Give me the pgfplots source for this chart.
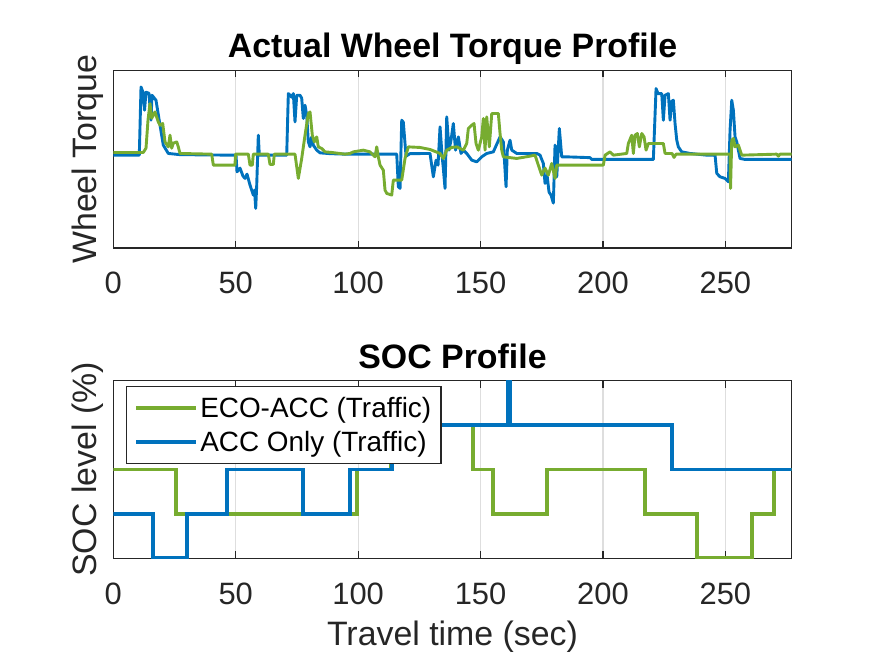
\documentclass[border=0pt]{standalone}
\usepackage{fontspec}
\setmainfont{Liberation Sans}
\usepackage{pgfplots}
\pgfplotsset{compat=1.18}

\definecolor{accblue}{HTML}{0072BD}
\definecolor{ecogreen}{HTML}{77AC30}
\definecolor{axgray}{HTML}{262626}
\definecolor{gridgray}{HTML}{DEDEDE}

\pgfplotsset{
  profileaxis/.style={
    scale only axis, width=678.4bp, height=177.7bp,
    xmin=0, xmax=277.1,
    xtick={0,50,...,250}, ytick=\empty,
    xmajorgrids, grid style={gridgray, line width=1.2bp},
    tick align=inside, major tick length=7bp,
    every tick/.style={axgray, line width=1.2bp},
    axis line style={axgray, line width=1.4bp},
    /pgf/number format/assume math mode=true,
    ticklabel style={font=\fontsize{31}{36}\selectfont, text=axgray},
    xticklabel style={anchor=base, yshift=-46bp},
    label style={font=\fontsize{34}{40}\selectfont, text=axgray},
    title style={font=\bfseries\fontsize{34}{40}\selectfont,
                 at={(axis description cs:0.5,1)}, anchor=base, yshift=6.5bp},
    ylabel style={at={(axis description cs:-0.0251,0.5)}, anchor=base},
  },
}

\begin{document}
\begin{tikzpicture}
\useasboundingbox (0,0) rectangle (875bp,657bp);

% Wheel torque
\begin{axis}[profileaxis, at={(113.3bp,409bp)}, anchor=south west,
  ymin=-89, ymax=89,
  title={Actual Wheel Torque Profile}, ylabel={Wheel Torque}]
\addplot[accblue, line width=2.9bp, line join=round] coordinates {
(0,4) (10.62,4) (11.32,72.3) (12.13,67) (12.75,49) (13.36,67) (14.58,66)
(15.40,39) (15.81,64) (17.44,59) (19.08,34) (20.42,14) (22.47,5.7) (27.25,4.5)
(47.67,4) (50.12,4) (50.53,-12.7) (51.76,-9) (52.98,-17) (53.80,-19.3)
(54.62,-15) (55.84,-26) (57.19,-36) (57.68,-31) (58.17,-49.3) (58.58,-26)
(59.23,24) (59.64,4) (60.33,4) (70.83,4) (71.49,65.7) (72.18,64) (72.88,62)
(73.53,65.7) (74.22,37.3) (74.92,64) (76.27,64) (76.96,61) (77.61,40.7)
(78.31,54) (79.00,44) (79.66,17.3) (80.35,12.3) (81.05,22.3) (81.70,14)
(83.09,9) (84.44,6.3) (88.52,5.5) (94.65,5) (115.77,5) (116.42,-27.7)
(117.12,-29.3) (117.81,39) (118.46,37) (119.57,3) (121.20,5.5) (129.37,5.7)
(130.72,-17.7) (131.82,-1) (132.64,-6) (133.46,32.3) (134.27,4) (134.80,-9.3)
(135.50,-29.3) (136.19,42.3) (137.13,9) (137.95,19) (138.89,35.7) (139.79,9)
(140.93,22.3) (142.03,5.7) (142.97,9) (144.36,5.7) (146.41,-1) (148.45,-2.7)
(150.49,2.3) (152.53,5.7) (155.23,7.3) (157.97,22.3) (159.31,17.3)
(160.01,-11) (160.42,-27.7) (160.95,9) (162.05,19) (162.75,9) (164.79,5.7)
(172.96,5.7) (174.31,4) (175.65,-4.3) (176.35,-24.3) (177.17,-16)
(177.98,-33) (178.80,-36) (179.74,-44) (180.43,14) (181.13,-17.7)
(182.19,30.7) (183.17,2.3) (185.21,2.3) (194.73,1.5) (195.42,-0.3)
(220.59,-0.3) (221.69,70.7) (222.51,65.7) (224.02,65.7) (224.67,39)
(225.37,64) (226.72,65.7) (227.41,39) (228.10,58) (228.76,59) (229.45,35.7)
(230.15,19) (230.80,12.3) (232.19,7.3) (235.58,5.7) (242.40,4) (245.79,4)
(246.49,-14.3) (247.83,-17.7) (249.88,-19.3) (251.23,-22.7) (251.92,29)
(252.61,59) (253.27,49) (253.96,22.3) (254.66,17.3) (255.31,9) (256.00,0.7)
(258.05,-0.3) (277.1,-0.3)
};
\addplot[ecogreen, line width=2.9bp, line join=round] coordinates {
(0,6.7) (12.25,6.7) (13.36,11) (14.17,39) (14.99,55.7) (15.69,41)
(17.03,47.3) (18.38,37.3) (19.08,34) (20.18,35.7) (21.12,17.3) (22.47,12.3)
(23.16,24) (23.86,11) (24.51,16) (25.90,17.3) (26.55,12.3) (27.25,5.7)
(40.20,5) (40.85,-6) (49.71,-6) (49.92,5) (55.15,5) (55.84,-6) (56.78,-6)
(57.19,5) (63.32,5) (64.01,-5.3) (65.36,-5.3) (65.77,5) (74.22,5)
(75.57,-19.3) (76.96,0.7) (78.31,24) (79.66,45.7) (80.35,47.3) (81.29,24)
(82.11,17.3) (83.09,22.3) (83.74,12.3) (85.13,10.7) (86.48,7.3) (89.22,6.7)
(94.65,5) (96.69,5.7) (98.04,7.3) (102.12,9) (104.86,7.3) (106.90,2.3)
(107.60,12.3) (108.25,2.3) (108.95,-6) (110.29,-11) (110.99,-31)
(111.68,-34.3) (113.73,-36) (114.38,-21) (117.81,-21) (119.16,0.7)
(120.51,12.3) (125.29,11.7) (129.37,9.7) (133.46,5.7) (134.80,0.7) (136.19,9)
(138.24,11.7) (140.28,12.3) (142.97,9) (144.36,15.7) (145.02,30.7)
(146.41,34) (147.34,35.7) (148.16,15.7) (149.10,9) (150.49,22.3)
(151.14,40.7) (151.84,9) (152.53,42.3) (153.59,12.3) (154.58,45.7)
(157.27,45.7) (157.97,25.7) (158.66,9) (159.31,2.3) (164.79,0.7) (170.22,3)
(172.26,4) (173.61,-6) (175.00,-16) (176.35,-9) (177.70,-16) (179.08,-4.3)
(180.43,-19.3) (181.13,-6) (200.16,-6) (200.86,4) (202.90,7.3) (204.25,4)
(209.72,5.7) (210.38,15.7) (211.76,24) (212.42,5.7) (213.11,24) (214.05,25.7)
(214.87,12.3) (215.85,25.7) (216.79,22.3) (217.61,9) (218.55,15.7)
(224.67,15.7) (225.37,5.7) (228.23,5.7) (229.04,1.7) (229.86,5) (251.92,5)
(252.12,-29.3) (252.61,19) (253.27,20.7) (253.96,12.3) (255.31,14)
(256.70,4) (271.00,5) (271.65,3) (272.34,5) (277.1,5)
};
\end{axis}

% State of charge
\begin{axis}[profileaxis, at={(113.3bp,98.7bp)}, anchor=south west,
  ymin=0, ymax=4,
  title={SOC Profile}, ylabel={SOC level (\%)},
  xlabel={Travel time (sec)},
  xlabel style={at={(axis description cs:0.5,0)}, anchor=base, yshift=-87bp},
  legend cell align=left,
  legend image code/.code={\draw[#1, line width=3.6bp] (0bp,0bp) -- (60bp,0bp);},
  legend style={at={(axis description cs:0.0187,0.972)}, anchor=north west,
    draw=axgray, line width=1.4bp, fill=white,
    font=\fontsize{28}{32}\selectfont, text=black,
    inner xsep=8bp, inner ysep=9bp, row sep=8bp,
    /tikz/every even column/.append style={column sep=3bp}}]
\addplot[ecogreen, line width=3.8bp, const plot mark left] coordinates {
(0,2) (25.49,1) (99.43,2) (113.5,3) (146.81,2) (155.23,1) (177.04,2)
(217.20,1) (238.32,0) (260.78,1) (270.02,2) (277.1,2)
};
\addlegendentry{ECO-ACC (Traffic)}
\addplot[accblue, line width=3.8bp, const plot mark left] coordinates {
(0,1) (16.34,0) (30.23,1) (46.32,2) (77.61,1) (96.69,2) (113.73,3)
(161.11,4) (162.05,3) (228.10,2) (277.1,2)
};
\addlegendentry{ACC Only (Traffic)}
\end{axis}
\end{tikzpicture}
\end{document}
